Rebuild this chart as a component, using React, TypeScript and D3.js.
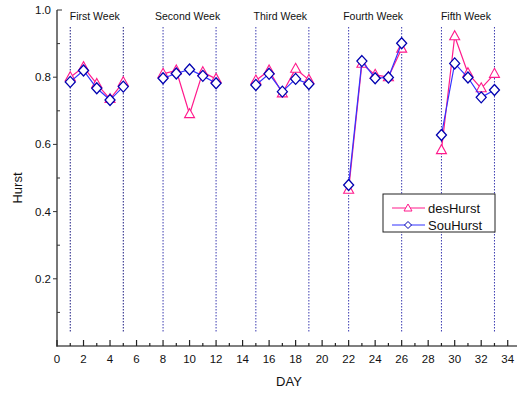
import * as d3 from "d3";

// Hurst values by day (five weeks, Mon-Fri)
const days = [1, 2, 3, 4, 5, 8, 9, 10, 11, 12, 15, 16, 17, 18, 19, 22, 23, 24, 25, 26, 29, 30, 31, 32, 33];
const desHurst = [
  0.8, 0.83, 0.78, 0.735, 0.785,
  0.81, 0.82, 0.69, 0.815, 0.795,
  0.79, 0.82, 0.752, 0.825, 0.792,
  0.465, 0.84, 0.807, 0.8, 0.885,
  0.583, 0.922, 0.812, 0.767, 0.81,
];
const souHurst = [
  0.786, 0.82, 0.767, 0.732, 0.772,
  0.797, 0.811, 0.823, 0.804, 0.782,
  0.777, 0.81, 0.757, 0.795, 0.78,
  0.479, 0.848, 0.797, 0.799, 0.901,
  0.628, 0.841, 0.799, 0.74, 0.762,
];
const weekNames = ["First Week", "Second Week", "Third Week", "Fourth Week", "Fifth Week"];
const weekBounds = [[1, 5], [8, 12], [15, 19], [22, 26], [29, 33]];
const xTicks = d3.range(0, 35);
const yMajor = [0.2, 0.4, 0.6, 0.8, 1.0];
const yMinor = [0.1, 0.3, 0.5, 0.7, 0.9];

const W = 517;
const H = 394;
const font = "'Liberation Sans', Arial, sans-serif";
const pink = "#ff1a8c";
const blueLine = "#3333ff";
const blueMark = "#0000b0";

const x = d3.scaleLinear().domain([0, 34.7]).range([57, 517]);
const y = d3.scaleLinear().domain([0, 1]).range([346, 10]);

const triPath = "M0,-5.5L5,3.5L-5,3.5Z";
const diaPath = "M0,-5.5L5,0L0,5.5L-5,0Z";

const lineGen = d3
  .line<number>()
  .x((d) => x(d[0]))
  .y((d) => y(d[1]));

function weekSeries(vals: number[]) {
  return weekBounds.map((_, w) =>
    days.slice(w * 5, w * 5 + 5).map((d, i) => [d, vals[w * 5 + i]])
  );
}

export default function App() {
  const desWeeks = weekSeries(desHurst);
  const souWeeks = weekSeries(souHurst);

  return (
    <svg
      width={W}
      height={H}
      style={{ position: "absolute", left: 0, top: 0, background: "#fff" }}
      fontFamily={font}
    >
      <rect width={W} height={H} fill="#fff" />

      {/* week separators */}
      {weekBounds.flat().map((d, i) => (
        <line
          key={"v" + i}
          x1={x(d)}
          x2={x(d)}
          y1={27}
          y2={333}
          stroke={i < 2 ? "#1a1a80" : "#3a3ab0"}
          strokeWidth={1}
          strokeDasharray="1.5,1.5"
        />
      ))}

      {weekNames.map((n, i) => (
        <text
          key={n}
          x={x((weekBounds[i][0] + weekBounds[i][1]) / 2) - 2}
          y={20}
          fontSize={10.5}
          textAnchor="middle"
          fill="#111"
        >
          {n}
        </text>
      ))}

      {/* axes */}
      <line x1={x(0)} x2={x(0)} y1={y(1)} y2={y(0) + 1} stroke="#555" strokeWidth={1.6} />
      <line x1={x(0)} x2={W} y1={y(0)} y2={y(0)} stroke="#555" strokeWidth={1.6} />
      {yMajor.map((v) => (
        <g key={"ym" + v}>
          {v === 1 ? (
            <line x1={x(0)} x2={x(0) + 5} y1={y(v)} y2={y(v)} stroke="#333" />
          ) : (
            <line x1={x(0) - 4} x2={x(0)} y1={y(v)} y2={y(v)} stroke="#333" />
          )}
          <text x={x(0) - 6} y={y(v) + 4} fontSize={11.5} textAnchor="end" fill="#111">
            {v.toFixed(1)}
          </text>
        </g>
      ))}
      {yMinor.map((v) => (
        <line key={"yn" + v} x1={x(0)} x2={x(0) + 3} y1={y(v)} y2={y(v)} stroke="#333" />
      ))}
      {xTicks.map((t) => (
        <g key={"xt" + t}>
          <line
            x1={x(t)}
            x2={x(t)}
            y1={y(0)}
            y2={y(0) - (t % 2 === 0 ? 6 : 3)}
            stroke="#222"
            strokeWidth={1.2}
          />
          {t % 2 === 0 && (
            <text x={x(t)} y={y(0) + 17} fontSize={11.5} textAnchor="middle" fill="#111">
              {t}
            </text>
          )}
        </g>
      ))}

      <text x={289} y={386} fontSize={13} textAnchor="middle" fill="#111">
        DAY
      </text>
      <text
        transform={`translate(22,${188}) rotate(-90)`}
        fontSize={13}
        textAnchor="middle"
        fill="#111"
      >
        Hurst
      </text>

      {/* desHurst */}
      {desWeeks.map((wk, i) => (
        <path key={"dl" + i} d={lineGen(wk as any) || ""} fill="none" stroke={pink} strokeWidth={1.2} />
      ))}
      {days.map((d, i) => (
        <path
          key={"dm" + i}
          d={triPath}
          transform={`translate(${x(d)},${y(desHurst[i])})`}
          fill="#fff"
          stroke={pink}
          strokeWidth={1.1}
        />
      ))}

      {/* souHurst */}
      {souWeeks.map((wk, i) => (
        <path key={"sl" + i} d={lineGen(wk as any) || ""} fill="none" stroke={blueLine} strokeWidth={1.2} />
      ))}
      {days.map((d, i) => (
        <path
          key={"sm" + i}
          d={diaPath}
          transform={`translate(${x(d)},${y(souHurst[i])})`}
          fill="#fff"
          stroke={blueMark}
          strokeWidth={1.3}
        />
      ))}

      {/* legend */}
      <rect x={383} y={194} width={112} height={38} fill="#fff" stroke="#222" strokeWidth={1} />
      <line x1={392} x2={425} y1={208} y2={208} stroke={pink} strokeWidth={1.2} />
      <path d="M0,-4L4,3L-4,3Z" transform="translate(408,208)" fill="#fff" stroke={pink} />
      <text x={428} y={213} fontSize={13} fill="#111">desHurst</text>
      <line x1={392} x2={425} y1={225} y2={225} stroke={blueLine} strokeWidth={1.2} />
      <path d="M0,-3.5L3.5,0L0,3.5L-3.5,0Z" transform="translate(408,225)" fill="#fff" stroke={blueMark} />
      <text x={428} y={230} fontSize={13} fill="#111">SouHurst</text>
    </svg>
  );
}
